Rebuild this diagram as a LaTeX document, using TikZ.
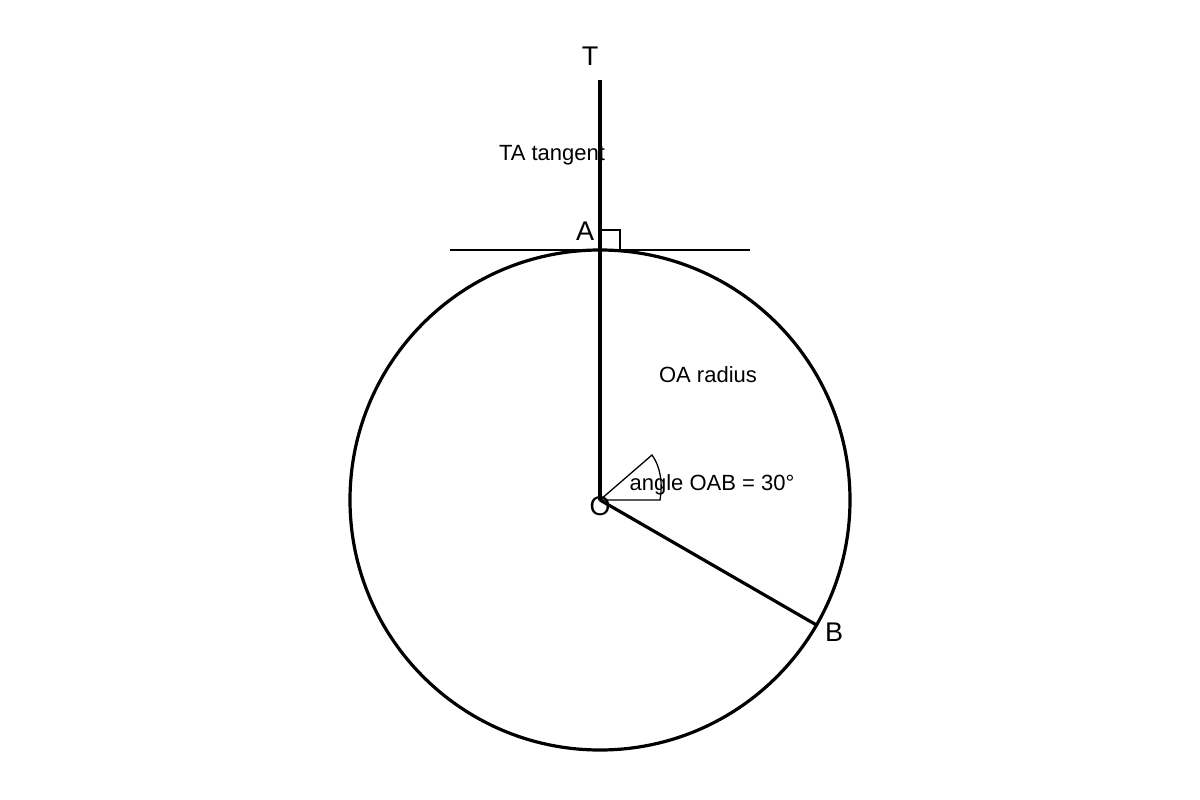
\documentclass[tikz,border=0pt]{standalone}
\usepackage{fontspec}
\setmainfont{Liberation Sans}
\begin{document}
\begin{tikzpicture}[x=1pt,y=-1pt,
  thickline/.style={line width=3.2pt, line cap=butt},
  thinline/.style={line width=1.4pt},
  biglabel/.style={font=\fontsize{27}{29}\selectfont, inner sep=0pt},
  smalllabel/.style={font=\fontsize{22}{24}\selectfont, inner sep=0pt}]
\useasboundingbox (0,0) rectangle (1200,800);
\coordinate (O) at (600,500);
\coordinate (A) at (600,250);
\coordinate (Ttop) at (600,80);
\coordinate (Bp) at (816.5,625);
\coordinate (tl) at (450,250);
\coordinate (tr) at (750,250);
\draw[thickline] (O) circle[radius=250];
\draw[thinline] (tl) -- (tr);
\draw[thickline] (Ttop) -- (O);
\draw[thickline] (O) -- (Bp);
\draw[line width=1.3pt] (600,230) -- (620,230) -- (620,250);
\draw[line width=1.3pt] (O) -- (660,500) .. controls (663,482) and (660,466) .. (652,455) -- cycle;
\node[biglabel] (T) at (590,56) {T};
\node[biglabel] (Al) at (585,231) {A};
\node[biglabel] (Ol) at (600,506) {O};
\node[biglabel] (Bl) at (834,632) {B};
\node[smalllabel] (ta) at (552,155) {TA tangent};
\node[smalllabel] (oa) at (708,375) {OA radius};
\node[smalllabel] (ang) at (712,485) {angle OAB = 30°};
\end{tikzpicture}
\end{document}
